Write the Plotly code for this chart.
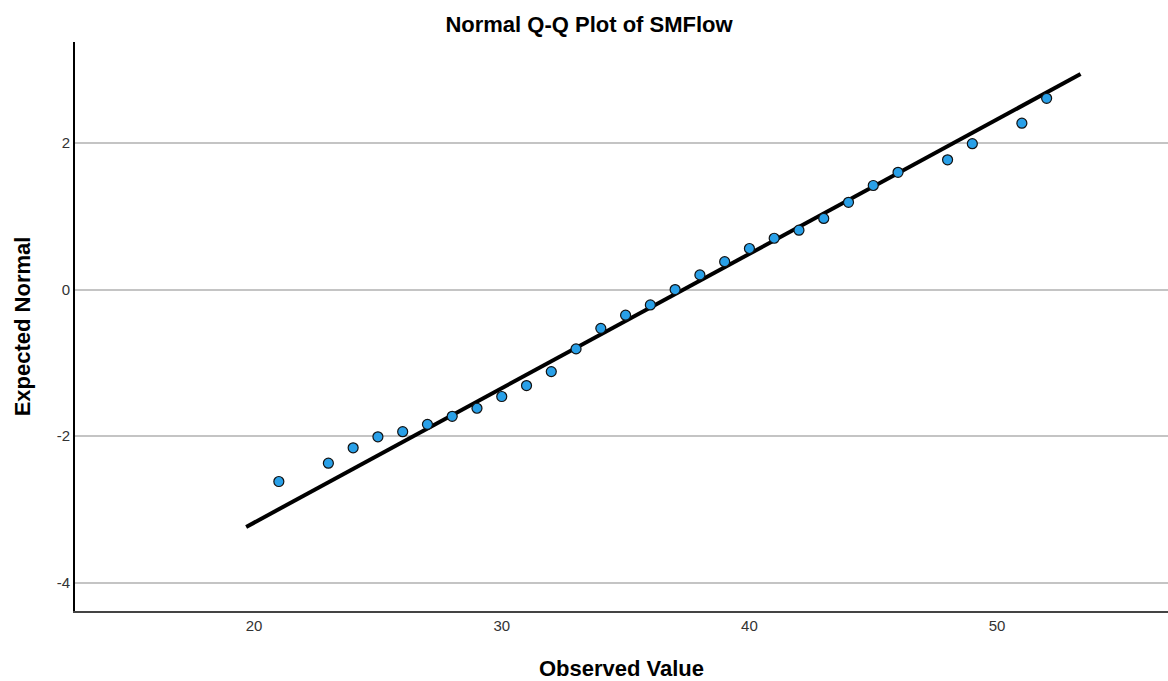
import plotly.graph_objects as go

# Observed values (x) and expected normal scores (y)
observed = [21, 23, 24, 25, 26, 27, 28, 29, 30, 31, 32, 33, 34, 35, 36,
            37, 38, 39, 40, 41, 42, 43, 44, 45, 46, 48, 49, 51, 52]
expected = [-2.62, -2.37, -2.16, -2.01, -1.94, -1.84, -1.73, -1.62, -1.46,
            -1.31, -1.12, -0.81, -0.53, -0.35, -0.21, 0.00, 0.20, 0.38,
            0.56, 0.70, 0.81, 0.97, 1.19, 1.42, 1.60, 1.77, 1.99, 2.27, 2.61]

# Reference line endpoints
line_x = [19.68, 53.37]
line_y = [-3.24, 2.94]

x_ticks = [20, 30, 40, 50]
y_ticks = [-4, -2, 0, 2]

W, H = 1168, 681

fig = go.Figure()
fig.add_trace(go.Scatter(
    x=line_x, y=line_y, mode="lines",
    line=dict(color="black", width=4),
    hoverinfo="skip", showlegend=False,
))
fig.add_trace(go.Scatter(
    x=observed, y=expected, mode="markers",
    marker=dict(size=10, color="#29a0e8",
                line=dict(color="#111", width=1.2)),
    showlegend=False,
))

fig.update_layout(
    width=W, height=H,
    margin=dict(l=75, r=0, t=42, b=70),
    paper_bgcolor="white", plot_bgcolor="white",
    font=dict(family="Liberation Sans, Arial, sans-serif", color="#222"),
    title=dict(
        text="<b>Normal Q-Q Plot of SMFlow</b>",
        font=dict(size=22, color="black"),
        xref="container", x=589 / W, xanchor="center",
        yref="container", y=1 - 24 / H, yanchor="middle",
    ),
    xaxis=dict(
        range=[12.77, 56.9],
        tickvals=x_ticks, ticktext=[str(v) for v in x_ticks],
        showgrid=False, zeroline=False,
        showline=True, linecolor="#444", linewidth=2,
        ticks="", tickfont=dict(size=15, color="#333"),
        title=dict(text="<b>Observed Value</b>",
                   font=dict(size=22, color="black"), standoff=28),
    ),
    yaxis=dict(
        range=[-4.387, 3.378],
        tickvals=y_ticks, ticktext=[str(v) for v in y_ticks],
        showgrid=True, gridcolor="#c4c4c4", gridwidth=1.5,
        zeroline=False,
        showline=True, linecolor="black", linewidth=2,
        ticks="", tickfont=dict(size=15, color="#333"),
        title=dict(text="<b>Expected Normal</b>",
                   font=dict(size=22, color="black"), standoff=20),
    ),
)

fig.write_html("out.html")
